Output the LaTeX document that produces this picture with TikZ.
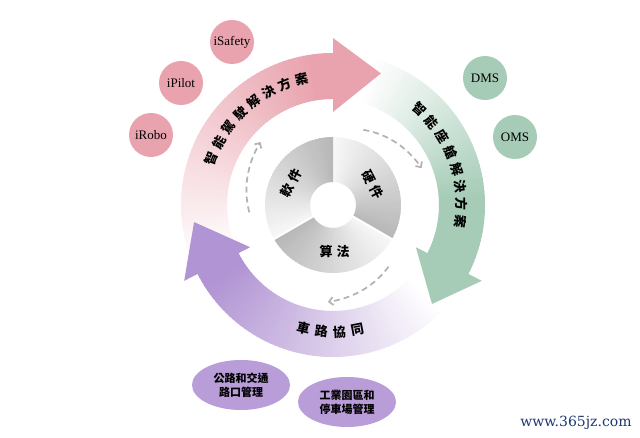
\documentclass[tikz,border=0pt]{standalone}
\usepackage{fontspec}
\setmainfont{Liberation Serif}
\newfontfamily\cjk{Noto Sans CJK TC}
\newfontfamily\webfont{DejaVu Serif}
\usetikzlibrary{arrows.meta,shapes.geometric}
\definecolor{pinkc}{RGB}{233,163,174}
\definecolor{greenc}{RGB}{166,204,183}
\definecolor{purplec}{RGB}{177,148,211}
\definecolor{purplel}{RGB}{184,157,216}
\definecolor{grayc}{RGB}{184,184,184}
\definecolor{dashc}{RGB}{178,178,178}
\definecolor{webc}{RGB}{30,55,110}
\tikzset{
  bubble/.style={circle, minimum size=44pt, inner sep=0pt, font=\fontsize{13}{13}\selectfont},
  pinkbub/.style={bubble, fill=pinkc},
  greenbub/.style={bubble, fill=greenc},
  oval/.style={ellipse, fill=purplel, minimum width=98pt, minimum height=50pt, inner sep=0pt, align=center, font=\cjk\bfseries\fontsize{11}{14}\selectfont},
  ringtxt/.style={font=\cjk\bfseries\fontsize{13}{13}\selectfont, inner sep=0pt},
  flow/.style={dashc, line width=1.7pt, dash pattern=on 6pt off 4pt, -{Straight Barb[length=4pt,width=8pt]}}
}
% gradient band: #1 colour, #2 start angle (white), #3 end angle (head base), #4 angle of full colour
\newcommand\myband[4]{%
  \foreach \i in {0,...,59} {
    \pgfmathsetmacro\angA{#2+(#3-#2)*\i/60}
    \pgfmathsetmacro\angB{#2+(#3-#2)*(\i+1.3)/60}
    \pgfmathtruncatemacro\myf{max(0,min(100,100*(\angA-(#2))/((#4)-(#2))))}
    \fill[#1!\myf!white] (\angA:106pt) arc[start angle=\angA, end angle=\angB, radius=106pt]
      -- (\angB:152pt) arc[start angle=\angB, end angle=\angA, radius=152pt] -- cycle;
  }}
\newcommand\myhead[3]{\fill[#1] (#2:93pt) -- (#2:167pt) -- (#3:140pt) -- cycle;}
% gray segment: light at #1, dark at #2
\newcommand\grayseg[2]{%
  \foreach \i in {0,...,39} {
    \pgfmathsetmacro\angA{#1+(#2-#1)*\i/40}
    \pgfmathsetmacro\angB{#1+(#2-#1)*min(\i+1.3,40)/40}
    \pgfmathtruncatemacro\myf{12+88*\i/39}
    \fill[grayc!\myf!white] (\angA:23pt) arc[start angle=\angA, end angle=\angB, radius=23pt]
      -- (\angB:68pt) arc[start angle=\angB, end angle=\angA, radius=68pt] -- cycle;
  }}
\begin{document}
\begin{tikzpicture}[x=1pt,y=1pt]
\fill[white] (0,0) rectangle (640,438);
\useasboundingbox (0,0) rectangle (640,438);
\coordinate (C) at (333,233);
\begin{scope}[shift={(C)}]
  % big arrows
  \myband{greenc}{75}{-27}{5}
  \myband{purplec}{-42}{-153}{-146}
  \myband{pinkc}{205}{90}{100}
  \myhead{greenc}{-27}{-45}
  \myhead{purplec}{-153}{-173}
  \myhead{pinkc}{90}{70}
  % arrow texts
  \foreach \c [count=\k] in {智,能,駕,駛,解,決,方,案} {
    \pgfmathsetmacro\ang{159-(\k-1)*7.86}
    \node[ringtxt, rotate=\ang-90] (pt\k) at (\ang:130pt) {\c};
  }
  \foreach \c [count=\k] in {智,能,座,艙,解,決,方,案} {
    \pgfmathsetmacro\ang{48-(\k-1)*7.94}
    \node[ringtxt, rotate=\ang-90] (gt\k) at (\ang:129pt) {\c};
  }
  \foreach \c [count=\k] in {車,路,協,同} {
    \pgfmathsetmacro\ang{-103.5+(\k-1)*8.17}
    \node[ringtxt, rotate=\ang+90] (vt\k) at (\ang:127pt) {\c};
  }
  % gray ring
  \grayseg{90}{-30}
  \grayseg{-30}{-150}
  \grayseg{210}{90}
  \draw[white, line width=2pt] (-30:21pt) -- (-30:70pt);
  \draw[white, line width=2pt] (210:21pt) -- (210:70pt);
  \node[ringtxt, rotate=62] (soft) at (152:47pt) {軟\hspace{4pt}件};
  \node[ringtxt, rotate=-63] (hard) at (27:45pt) {硬\hspace{4pt}件};
  \node[ringtxt] (algo) at (-88:47pt) {算\hspace{4pt}法};
  % dashed flow arrows
  \draw[flow] plot[domain=0:1, samples=24] ({185-46*\x}:{84+12*\x});
  \draw[flow] plot[domain=0:1, samples=24] ({68-45.4*\x}:{81+15*\x});
  \draw[flow] plot[domain=0:1, samples=24] ({-48-45*\x}:{83+14*\x});
\end{scope}
% bubbles
\node[pinkbub] (isafety) at (232,396) {iSafety};
\node[pinkbub] (ipilot) at (181,355) {iPilot};
\node[pinkbub] (irobo) at (151,303) {iRobo};
\node[greenbub] (dms) at (485,360) {DMS};
\node[greenbub] (oms) at (515,301) {OMS};
\node[oval] (road) at (241,53) {公路和交通\\路口管理};
\node[oval] (park) at (347,36) {工業園區和\\停車場管理};
\node[font=\webfont\fontsize{14}{14}\selectfont, text=webc, inner sep=0pt] (web) at (576,15) {www.365jz.com};
\end{tikzpicture}
\end{document}
